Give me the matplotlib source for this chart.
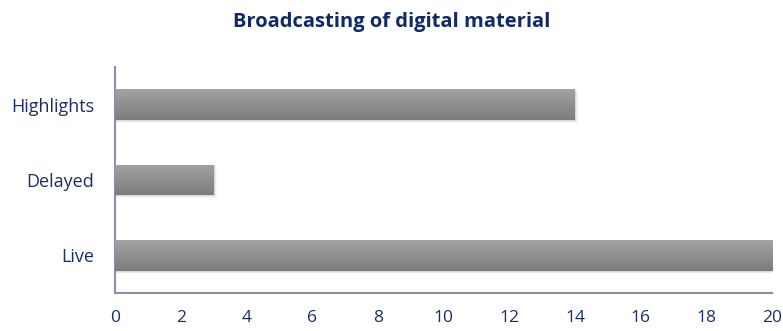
import matplotlib
matplotlib.use("Agg")
import matplotlib.pyplot as plt
import numpy as np
from matplotlib.patches import Rectangle
from matplotlib.colors import LinearSegmentedColormap

categories = ["Live", "Delayed", "Highlights"]
values = [20, 3, 14]
xticks = [0, 2, 4, 6, 8, 10, 12, 14, 16, 18, 20]

plt.rcParams['font.family'] = ['Open Sans', 'DejaVu Sans']
text_color = "#1b2f66"

fig = plt.figure(figsize=(7.83, 3.31), dpi=100)
ax = fig.add_axes([0.1469, 0.1148, 0.8391, 0.6828])

ypos = np.arange(len(categories))
h = 0.41
# soft shadow
for y, v in zip(ypos, values):
    for i, a in enumerate([0.08, 0.05, 0.03]):
        d = 0.012 * (i + 1)
        ax.add_patch(Rectangle((0, y - h / 2 - d), v + 0.035 * (i + 1), h, color="black", alpha=a, lw=0, zorder=1))
bars = ax.barh(ypos, values, height=h, color="#909090", zorder=2)
grad = np.linspace(0, 1, 100).reshape(-1, 1)
cmap = LinearSegmentedColormap.from_list("g", ["#7d7d7d", "#a2a2a2"])
for b in bars:
    x0, y0, w, hh = b.get_x(), b.get_y(), b.get_width(), b.get_height()
    im = ax.imshow(grad, extent=[x0, x0 + w, y0, y0 + hh], aspect="auto", cmap=cmap, zorder=3, origin="lower")
    im.set_clip_path(b)

ax.set_xlim(0, 20)
ax.set_ylim(-0.5, 2.5)
ax.set_xticks(xticks)
ax.set_yticks(ypos)
ax.set_yticklabels(categories)
ax.tick_params(axis="x", length=0, labelsize=12.5, colors=text_color, pad=12)
ax.tick_params(axis="y", length=0, labelsize=13, colors=text_color, pad=15)
for s in ["top", "right"]:
    ax.spines[s].set_visible(False)
for s in ["left", "bottom"]:
    ax.spines[s].set_color("#8a90aa")
    ax.spines[s].set_linewidth(1.5)

fig.text(0.5, 0.935, "Broadcasting of digital material", ha="center", va="center",
         fontsize=14.5, fontweight="bold", color="#0f2a6b")

fig.savefig("out.png", dpi=100)
